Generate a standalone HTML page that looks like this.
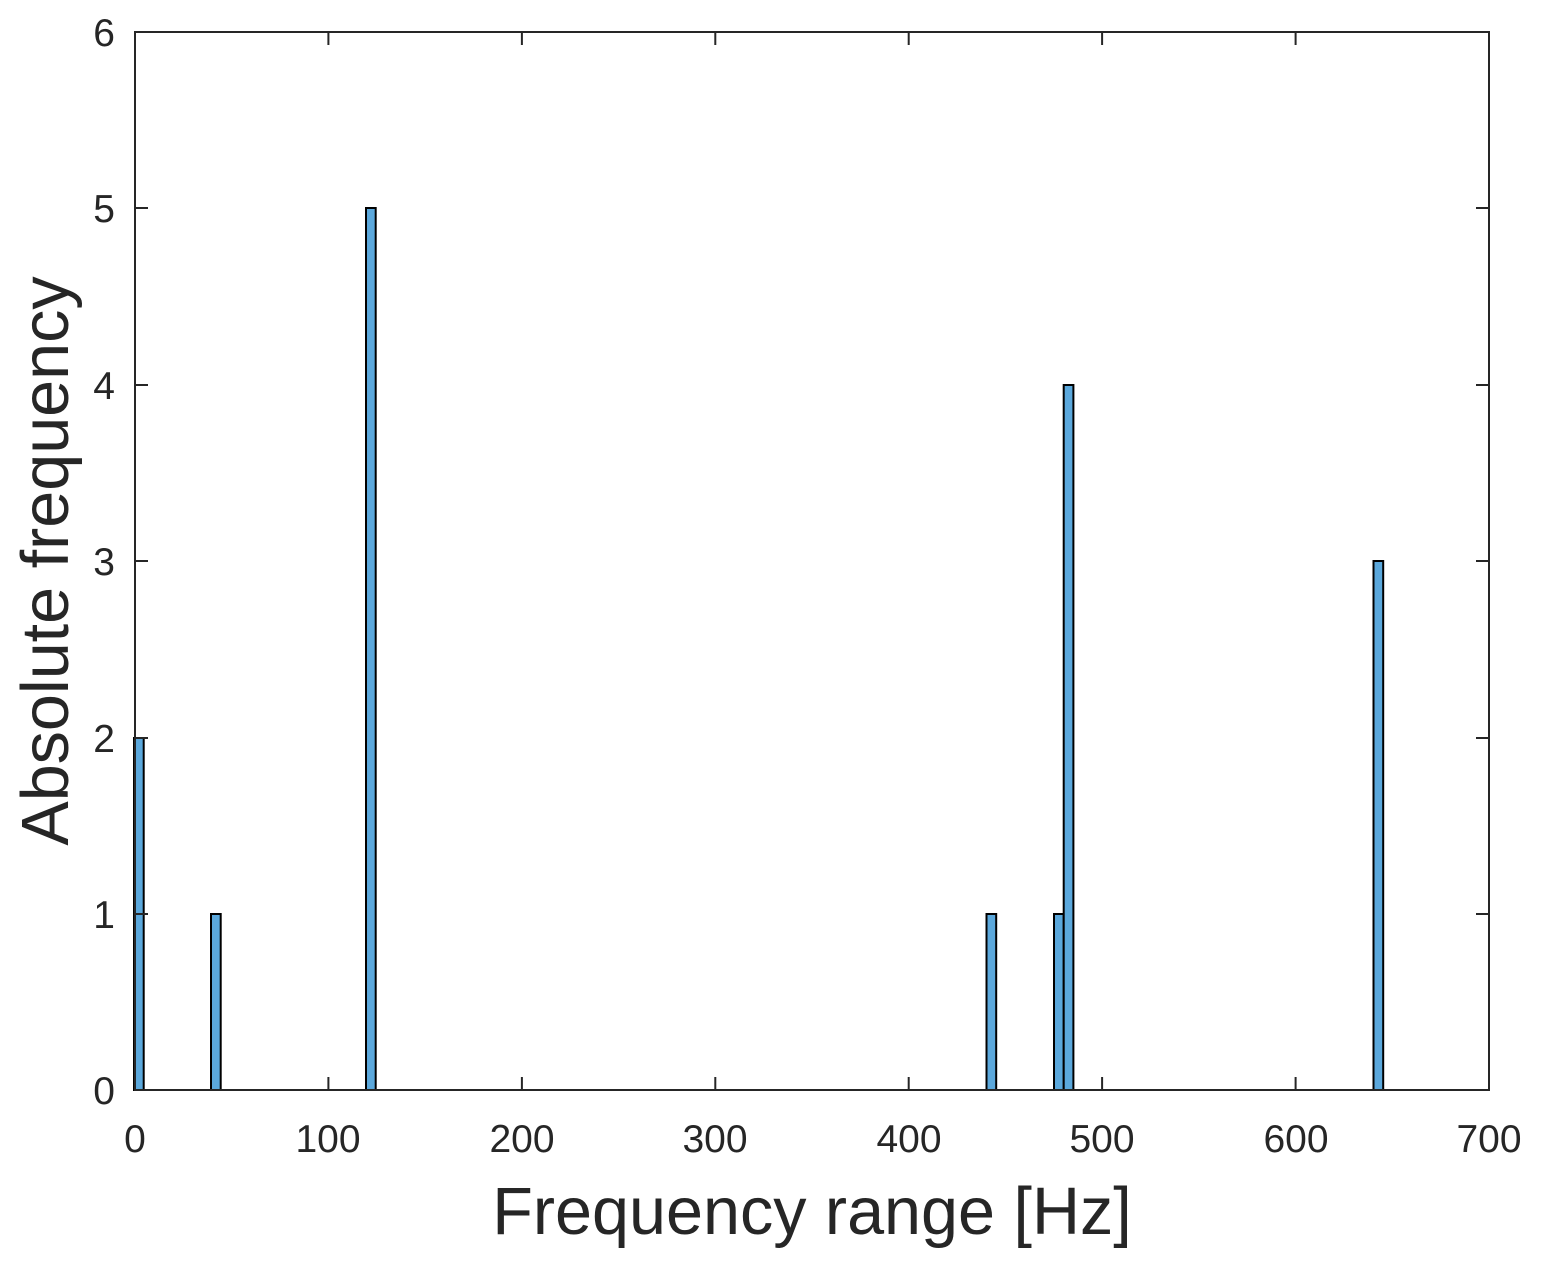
<!DOCTYPE html>
<html><head><style>body{margin:0;background:#fff}</style></head><body>
<svg width="1541" height="1265" xmlns="http://www.w3.org/2000/svg" font-family="Liberation Sans, sans-serif" fill="#262626">
<rect width="1541" height="1265" fill="#fff"/>
<g fill="#5ba8dc" stroke="#000" stroke-width="2">
<rect x="134" y="738" width="9.7" height="352"/>
<rect x="211" y="914" width="9.7" height="176"/>
<rect x="366" y="208" width="9.7" height="882"/>
<rect x="986.5" y="914" width="9.7" height="176"/>
<rect x="1054" y="914" width="9.7" height="176"/>
<rect x="1063.7" y="385" width="9.7" height="705"/>
<rect x="1373.5" y="561" width="9.7" height="529"/>
</g>
<g stroke="#262626" stroke-width="2" fill="none">
<rect x="135" y="32" width="1354" height="1058"/>
<path d="M328.4 1090v-13M521.9 1090v-13M715.3 1090v-13M908.7 1090v-13M1102.1 1090v-13M1295.6 1090v-13
M328.4 32v13M521.9 32v13M715.3 32v13M908.7 32v13M1102.1 32v13M1295.6 32v13
M135 914h13M135 738h13M135 561h13M135 385h13M135 208h13
M1489 914h-13M1489 738h-13M1489 561h-13M1489 385h-13M1489 208h-13"/>
</g>
<g font-size="39" text-anchor="middle">
<text x="135" y="1152">0</text><text x="328" y="1152">100</text><text x="522" y="1152">200</text><text x="715" y="1152">300</text><text x="909" y="1152">400</text><text x="1102" y="1152">500</text><text x="1296" y="1152">600</text><text x="1489" y="1152">700</text>
</g>
<g font-size="39" text-anchor="end">
<text x="115" y="1104">0</text><text x="115" y="928">1</text><text x="115" y="752">2</text><text x="115" y="575">3</text><text x="115" y="399">4</text><text x="115" y="222">5</text><text x="115" y="46">6</text>
</g>
<text x="812" y="1234" font-size="66.5" text-anchor="middle">Frequency range [Hz]</text>
<text transform="translate(68,561) rotate(-90)" font-size="66.5" text-anchor="middle">Absolute frequency</text>
</svg>
</body></html>
